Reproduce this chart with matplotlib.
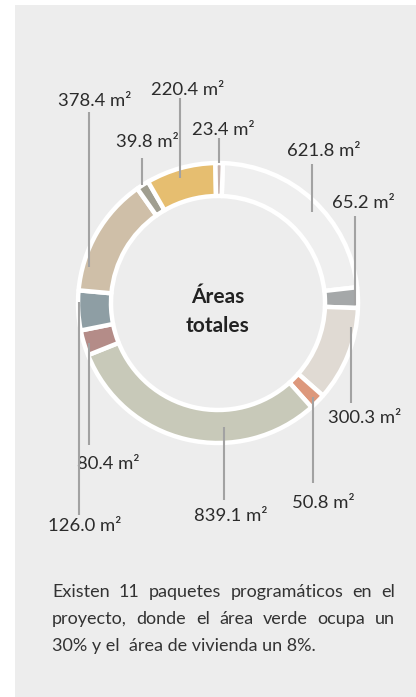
import numpy as np
import matplotlib
matplotlib.use("Agg")
import matplotlib.pyplot as plt
from matplotlib.patches import Rectangle

plt.rcParams['font.family'] = ['Lato', 'DejaVu Sans']

# === DATA: program areas (m²), clockwise from the top ===
areas = [621.8, 65.2, 300.3, 50.8, 839.1, 80.4, 126.0, 378.4, 39.8, 220.4, 23.4]
colors = ['#efefef', '#a5a8a9', '#e0dad3', '#dd987c', '#c8c9b9', '#b48c88',
          '#8e9ea4', '#cfbfa8', '#a09e90', '#e6be70', '#c6b3ae']
labels = [f"{a:.1f} m²" for a in areas]

# leader lines: spot along the wedge (fraction, radius) and where the label sits
anchor_frac = [0.54, 0.85, 0.21, 0.49, 0.355, 0.44, 0.71, 0.21, 0.46, 0.45, 0.48]
anchor_rad = [131, 137, 135, 134, 124, 135, 139, 134, 140, 131, 140]
label_xy = [(324, 149), (363, 201), (365, 416), (323, 501), (231, 514), (108, 462),
            (85, 524), (95, 99), (147, 140), (188, 88), (223, 128)]
line_end = [164, 216, 403, 483, 500, 445, 515, 112, 158, 98, 138]

texto = [
    ("Existen 11 paquetes programáticos en el", True),
    ("proyecto, donde el área verde ocupa un", True),
    ("30% y el  área de vivienda un 8%.", False),
]

W, H = 416, 697
fig = plt.figure(figsize=(W / 100, H / 100), dpi=100)
fig.patch.set_facecolor('white')
ax = fig.add_axes([0, 0, 1, 1])

# fondo gris del panel
ax.add_patch(Rectangle((15, 5), W - 15, H - 5, facecolor='#ededed', edgecolor='none', zorder=0))

cx, cy = 218, 303
# eje y invertido -> counterclock=True dibuja en sentido horario
wedges, _ = ax.pie(areas, colors=colors, center=(cx, cy), radius=140,
                   startangle=-88, counterclock=True,
                   wedgeprops=dict(width=33, edgecolor='white', linewidth=3.2,
                                   joinstyle='round'))

for w, f, r, (lx, ly), yend, txt in zip(wedges, anchor_frac, anchor_rad, label_xy, line_end, labels):
    th = np.deg2rad(w.theta1 + f * (w.theta2 - w.theta1))
    x0 = cx + r * np.cos(th)
    y0 = cy + r * np.sin(th)
    ax.plot([x0, x0], [y0, yend], color='#a2a2a2', lw=1.5, solid_capstyle='butt', zorder=5)
    ax.text(lx, ly + 7, txt, ha='center', va='baseline', fontsize=13.3, color='#2b2b2b')

ax.text(cx, 303, "Áreas", ha='center', va='baseline', fontsize=15,
        fontweight='bold', color='#222222')
ax.text(cx, 332, "totales", ha='center', va='baseline', fontsize=15,
        fontweight='bold', color='#222222')

ax.set_xlim(0, W)
ax.set_ylim(H, 0)
ax.set_aspect('auto')
ax.axis('off')

# parrafo justificado palabra por palabra
renderer = fig.canvas.get_renderer()
x_left, x_right = 52, 395
baselines = [597, 624, 651]
for (line, justify), yb in zip(texto, baselines):
    if not justify:
        ax.text(x_left, yb, line, ha='left', va='baseline', fontsize=13, color='#333333')
        continue
    words = line.split()
    items = [ax.text(0, yb, w_, ha='left', va='baseline', fontsize=13, color='#333333')
             for w_ in words]
    widths = [t.get_window_extent(renderer).width for t in items]
    gap = (x_right - x_left - sum(widths)) / (len(words) - 1)
    x = x_left
    for t, wd in zip(items, widths):
        t.set_x(x)
        x += wd + gap

fig.savefig('out.png', dpi=100, facecolor=fig.get_facecolor())
